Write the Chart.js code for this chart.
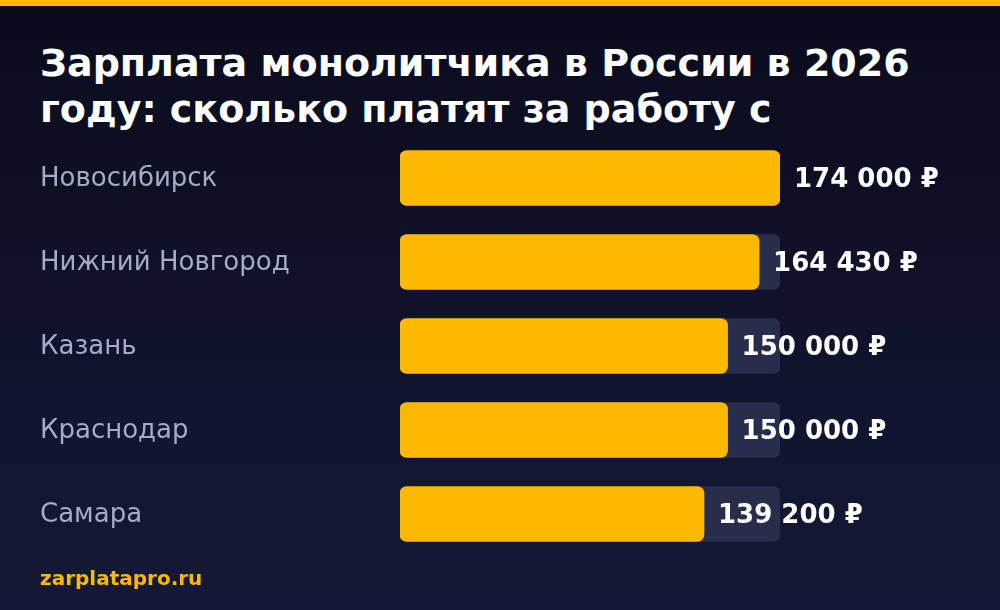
<!DOCTYPE html>
<html>
<head>
<meta charset="utf-8">
<script src="https://cdn.jsdelivr.net/npm/chart.js@4"></script>
<style>
  html, body { margin: 0; padding: 0; }
  body {
    width: 1000px; height: 610px; overflow: hidden; position: relative;
    background: linear-gradient(180deg, #0a0c1d 0%, #151937 100%);
    font-family: "DejaVu Sans", sans-serif;
  }
  #topbar { position: absolute; left: 0; top: 0; width: 1000px; height: 6px; background: #FFB800; }
  #title {
    position: absolute; left: 40px; top: 40px; color: #ffffff;
    font: bold 38px/46px "DejaVu Sans", sans-serif; white-space: nowrap;
  }
  #footer {
    position: absolute; left: 40px; top: 568px; color: #FFB800;
    font: bold 20px/20px "DejaVu Sans", sans-serif;
  }
  #wrap { position: absolute; left: 0; top: 0; width: 1000px; height: 610px; }
</style>
</head>
<body>
<div id="topbar"></div>
<div id="title">Зарплата монолитчика в России в 2026<br>году: сколько платят за работу с</div>
<div id="wrap"><canvas id="c" width="1000" height="610"></canvas></div>
<div id="footer">zarplatapro.ru</div>
<script>
const cities = ["Новосибирск", "Нижний Новгород", "Казань", "Краснодар", "Самара"];
const salaries = [174000, 164430, 150000, 150000, 139200];
const scaleMax = 174000;
const currency = "₽";

function fmt(v) {
  return String(v).replace(/\B(?=(\d{3})+(?!\d))/g, " ") + " " + currency;
}

const valueLabels = {
  id: "valueLabels",
  afterDatasetsDraw(chart) {
    const ctx = chart.ctx;
    const meta = chart.getDatasetMeta(1);
    ctx.save();
    ctx.font = "bold 26px 'DejaVu Sans', sans-serif";
    ctx.fillStyle = "#ffffff";
    ctx.textAlign = "left";
    ctx.textBaseline = "middle";
    meta.data.forEach((bar, i) => {
      ctx.fillText(fmt(salaries[i]), bar.x + 14, bar.y + 2);
    });
    ctx.restore();
  }
};

new Chart(document.getElementById("c"), {
  type: "bar",
  data: {
    labels: cities,
    datasets: [
      {
        data: cities.map(() => scaleMax),
        backgroundColor: "#282d4c",
        borderRadius: 7,
        borderSkipped: false,
        barThickness: 55,
        grouped: false,
        order: 2
      },
      {
        data: salaries,
        backgroundColor: "#FFB800",
        borderRadius: 7,
        borderSkipped: false,
        barThickness: 55,
        grouped: false,
        order: 1
      }
    ]
  },
  options: {
    indexAxis: "y",
    responsive: false,
    animation: false,
    events: [],
    layout: { padding: { left: 40, right: 220, top: 136, bottom: 54 } },
    plugins: { legend: { display: false }, tooltip: { enabled: false }, title: { display: false } },
    scales: {
      x: {
        min: 0, max: scaleMax,
        display: false
      },
      y: {
        grid: { display: false, drawTicks: false },
        border: { display: false },
        afterFit: (s) => { s.width = 360; },
        ticks: {
          crossAlign: "far",
          padding: 0,
          labelOffset: 1,
          color: "#a8abc6",
          font: { family: "'DejaVu Sans', sans-serif", size: 26 }
        }
      }
    }
  },
  plugins: [valueLabels]
});
</script>
</body>
</html>
